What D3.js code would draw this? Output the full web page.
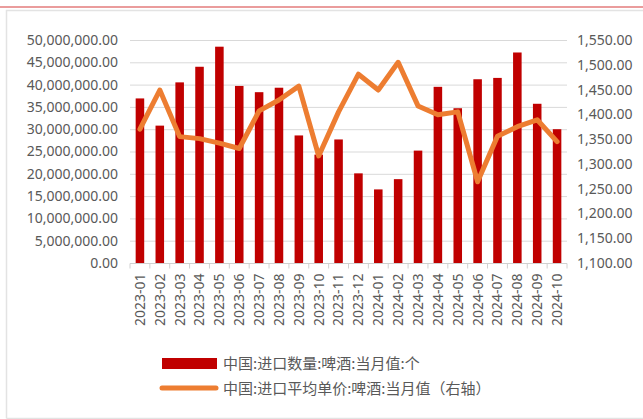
<!DOCTYPE html>
<html>
<head>
<meta charset="utf-8">
<script src="https://cdn.jsdelivr.net/npm/d3@7.9.0/dist/d3.min.js"></script>
<style>
  body { margin: 0; background: #fff; }
  svg { display: block; font-family: "Noto Sans", "Noto Sans CJK SC", sans-serif; }
</style>
</head>
<body>
<svg width="643" height="419"></svg>
<script>
// months on the x axis
const months = ['2023-01','2023-02','2023-03','2023-04','2023-05','2023-06','2023-07','2023-08',
  '2023-09','2023-10','2023-11','2023-12','2024-01','2024-02','2024-03','2024-04','2024-05',
  '2024-06','2024-07','2024-08','2024-09','2024-10'];

// import quantity (bars, left axis)
const quantity = [36.9e6, 30.8e6, 40.5e6, 44.0e6, 48.5e6, 39.7e6, 38.3e6, 39.3e6, 28.6e6, 24.3e6,
  27.7e6, 20.1e6, 16.5e6, 18.8e6, 25.2e6, 39.5e6, 34.7e6, 41.2e6, 41.5e6, 47.2e6, 35.7e6, 30.0e6];

// average unit price (line, right axis)
const price = [1370, 1449, 1355, 1351, 1342, 1331, 1407, 1429, 1457, 1316, 1405, 1481, 1449, 1505,
  1417, 1399, 1405, 1264, 1356, 1375, 1389, 1345];

const leftTicks = d3.range(0, 50000001, 5000000);
const rightTicks = d3.range(1100, 1551, 50);

const legendLabels = ['中国:进口数量:啤酒:当月值:个', '中国:进口平均单价:啤酒:当月值（右轴）'];

const barColor = '#c00000';
const lineColor = '#ed7d31';
const textColor = '#595959';

const svg = d3.select('svg');

// cut-off title strip and frame
svg.append('text')
  .attr('x', 4).attr('y', 1)
  .attr('font-size', 15).attr('fill', '#c00000')
  .text('图：  进口啤酒数量及均价情况');
svg.append('rect').attr('x', 0).attr('y', 0).attr('width', 643).attr('height', 4.5).attr('fill', '#fff');
svg.append('line').attr('x1', 0).attr('x2', 643).attr('y1', 7).attr('y2', 7)
  .attr('stroke', '#d63a3a').attr('stroke-width', 1.2);
svg.append('path')
  .attr('d', 'M6.5,418.5 V10.5 H643 M6.5,418.5 H643')
  .attr('fill', 'none').attr('stroke', '#e3e3e3').attr('stroke-width', 1.5);

const plotL = 130, plotR = 567, plotT = 40, plotB = 263;

const x = d3.scaleBand().domain(months).range([plotL, plotR]).paddingInner(0.57).paddingOuter(0.285);
const yL = d3.scaleLinear().domain([0, 50000000]).range([plotB, plotT]);
const yR = d3.scaleLinear().domain([1100, 1550]).range([plotB, plotT]);

// gridlines
svg.append('g').selectAll('line').data(leftTicks.slice(1)).join('line')
  .attr('x1', plotL).attr('x2', plotR)
  .attr('y1', d => yL(d) + 0.5).attr('y2', d => yL(d) + 0.5)
  .attr('stroke', '#d9d9d9').attr('stroke-width', 1);

const fmt = d3.format(',.2f');

const axL = svg.append('g').attr('transform', `translate(${plotL - 12},0)`)
  .call(d3.axisLeft(yL).tickValues(leftTicks).tickFormat(fmt).tickSize(0).tickPadding(0));
const axR = svg.append('g').attr('transform', `translate(${plotR + 10},0)`)
  .call(d3.axisRight(yR).tickValues(rightTicks).tickFormat(fmt).tickSize(0).tickPadding(0));
[axL, axR].forEach(a => {
  a.select('.domain').remove();
  a.selectAll('text').attr('font-size', 14).attr('fill', textColor).attr('font-family', '"Noto Sans", sans-serif');
});

// bars
svg.append('g').selectAll('rect').data(quantity).join('rect')
  .attr('x', (d, i) => x(months[i]))
  .attr('width', x.bandwidth())
  .attr('y', d => yL(d))
  .attr('height', d => yL(0) - yL(d))
  .attr('fill', barColor);

// x axis
const step = x.step();
const axX = svg.append('g').attr('transform', `translate(0,${plotB + 0.5})`);
axX.append('line').attr('x1', plotL).attr('x2', plotR).attr('stroke', '#d0d0d0');
axX.selectAll('.tk').data(d3.range(months.length + 1)).join('line')
  .attr('class', 'tk')
  .attr('x1', i => plotL + i * step).attr('x2', i => plotL + i * step)
  .attr('y1', 0).attr('y2', 5).attr('stroke', '#d0d0d0');
axX.selectAll('text').data(months).join('text')
  .attr('transform', d => `translate(${x(d) + x.bandwidth() / 2},10) rotate(-90)`)
  .attr('text-anchor', 'end').attr('dy', '0.35em')
  .attr('font-size', 14).attr('fill', textColor)
  .text(d => d);

// price line
const line = d3.line()
  .x((d, i) => x(months[i]) + x.bandwidth() / 2)
  .y(d => yR(d));
svg.append('path').datum(price)
  .attr('d', line)
  .attr('fill', 'none').attr('stroke', lineColor)
  .attr('stroke-width', 5).attr('stroke-linejoin', 'round').attr('stroke-linecap', 'round');

// legend
const lg = svg.append('g');
lg.append('rect').attr('x', 162).attr('y', 358).attr('width', 55).attr('height', 11).attr('fill', barColor);
lg.append('line').attr('x1', 162).attr('x2', 216).attr('y1', 388).attr('y2', 388)
  .attr('stroke', lineColor).attr('stroke-width', 5).attr('stroke-linecap', 'round');
lg.selectAll('text').data(legendLabels).join('text')
  .attr('x', 223).attr('y', (d, i) => 364 + i * 25).attr('dy', '0.35em')
  .attr('font-size', 15).attr('fill', textColor)
  .attr('font-family', '"Noto Sans CJK SC", sans-serif')
  .text(d => d);
</script>
</body>
</html>
